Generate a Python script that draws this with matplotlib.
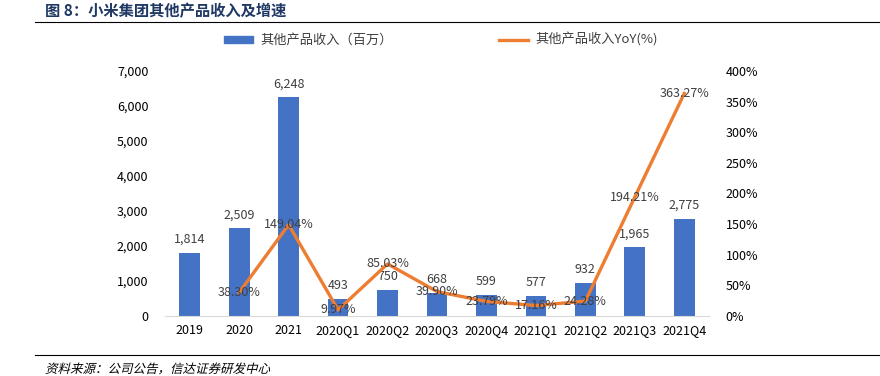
import matplotlib
matplotlib.use("Agg")
import matplotlib.pyplot as plt
import numpy as np
from matplotlib.lines import Line2D
from matplotlib.patches import Patch, PathPatch
from matplotlib.textpath import TextPath
from matplotlib.font_manager import FontProperties
from matplotlib.transforms import Affine2D, IdentityTransform

plt.rcParams['font.family'] = ['Noto Sans CJK SC', 'DejaVu Sans']

categories = ["2019", "2020", "2021", "2020Q1", "2020Q2", "2020Q3", "2020Q4",
              "2021Q1", "2021Q2", "2021Q3", "2021Q4"]
revenue = [1814, 2509, 6248, 493, 750, 668, 599, 577, 932, 1965, 2775]
yoy = [np.nan, 38.30, 149.04, 9.97, 85.03, 39.90, 23.79, 17.16, 24.28, 194.21, 363.27]

bar_color = "#4472C4"
line_color = "#ED7D31"
text_color = "#404040"

fig = plt.figure(figsize=(8.8, 3.76), dpi=100)
ax = fig.add_axes([165 / 880, 60 / 376, 544 / 880, 245 / 376])
x = np.arange(len(categories))

ax.bar(x, revenue, width=0.42, color=bar_color, zorder=2)
ax.set_xlim(-0.5, len(categories) - 0.5)
ax.set_ylim(0, 7000)
ax.set_yticks(range(0, 7001, 1000))
ax.set_yticklabels([f"{v:,}" for v in range(0, 7001, 1000)])
ax.set_xticks(x)
ax.set_xticklabels(categories)
for s in ["top", "right", "left"]:
    ax.spines[s].set_visible(False)
ax.spines["bottom"].set_color("#D9D9D9")
ax.tick_params(axis="both", length=0, labelsize=9, colors="#000000")
ax.tick_params(axis="y", pad=12)
ax.tick_params(axis="x", pad=6)
for xi, v in zip(x, revenue):
    ax.annotate(f"{v:,}", (xi, v), xytext=(0, 5), textcoords="offset points",
                ha="center", va="bottom", fontsize=9, color=text_color)

ax2 = ax.twinx()
ax2.plot(x, yoy, color=line_color, linewidth=2.4, zorder=3)
ax2.set_ylim(0, 400)
ax2.set_yticks(range(0, 401, 50))
ax2.set_yticklabels([f"{v}%" for v in range(0, 401, 50)])
for s in ["top", "right", "left", "bottom"]:
    ax2.spines[s].set_visible(False)
ax2.tick_params(axis="y", length=0, labelsize=9, pad=12)
for xi, v in zip(x, yoy):
    if not np.isnan(v):
        ax2.text(xi, v, f"{v:.2f}%", ha="center", va="center", fontsize=9,
                 color=text_color, zorder=4)

handles = [Patch(color=bar_color), Line2D([0], [0], color=line_color, linewidth=2.4)]
fig.legend(handles, ["其他产品收入（百万）", "其他产品收入YoY(%)"], loc="center",
           bbox_to_anchor=(441 / 880, 1 - 40 / 376), ncol=2, frameon=False,
           fontsize=9.5, handlelength=2.2, handleheight=0.5, columnspacing=8.0,
           handletextpad=0.6, labelcolor=text_color)

fig.text(45 / 880, 1 - 11 / 376, "图 8：小米集团其他产品收入及增速", fontsize=11,
         fontweight="bold", color="#1F3864", ha="left", va="center")
fig.add_artist(Line2D([35 / 880, 1], [1 - 22 / 376] * 2, color="#000000", linewidth=0.8))
fig.add_artist(Line2D([35 / 880, 1], [1 - 355 / 376] * 2, color="#000000", linewidth=0.8))

# source note, slanted like an italic (the CJK font has no italic face)
src = TextPath((0, 0), "资料来源：公司公告，信达证券研发中心",
               prop=FontProperties(family="Noto Sans CJK SC", size=9))
src_tr = Affine2D().skew_deg(14, 0).scale(100 / 72).translate(45, 376 - 373)
fig.add_artist(PathPatch(src, transform=src_tr + IdentityTransform(),
                         facecolor="#000000", edgecolor="none"))

fig.savefig("out.png", dpi=100)
